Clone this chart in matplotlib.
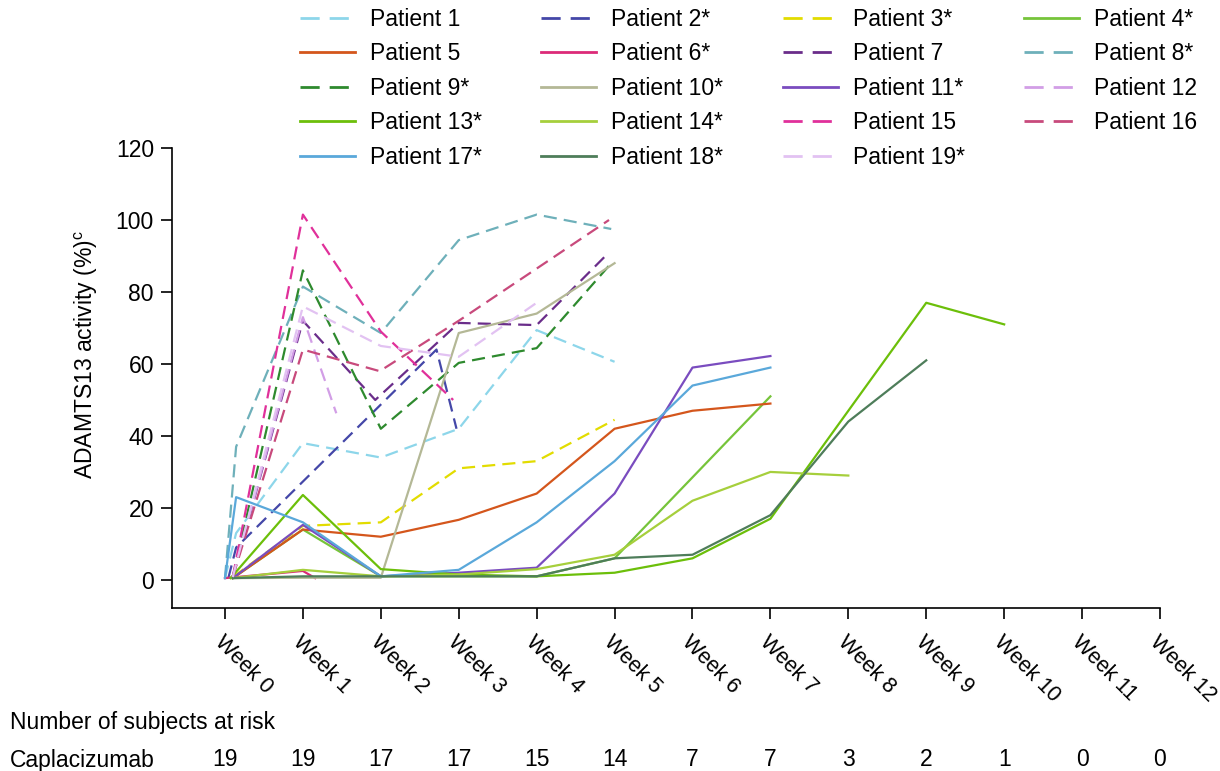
import numpy as np
import matplotlib
matplotlib.use('Agg')
import matplotlib.pyplot as plt
import matplotlib.transforms as mtransforms
from matplotlib.lines import Line2D

plt.rcParams['font.family'] = ['Liberation Sans', 'DejaVu Sans']
plt.rcParams['mathtext.fontset'] = 'custom'
plt.rcParams['mathtext.rm'] = 'Liberation Sans'

# days since first dose / ADAMTS13 activity (%)
days_1 = [0, 1, 7, 14, 21, 28, 35]
act_1 = [0.5, 13, 38, 34, 42, 69.4, 60.6]
days_2 = [0.3, 1, 19, 20.8]
act_2 = [0.5, 9, 64, 42]
days_3 = [0.7, 7, 14, 21, 28, 35]
act_3 = [0.8, 15, 16, 31, 33, 44.5]
days_4 = [0.7, 7, 14, 21, 28, 35, 49]
act_4 = [0.5, 14, 1, 1, 1, 6, 51]
days_5 = [0.7, 7, 14, 21, 28, 35, 42, 49]
act_5 = [0.5, 14, 12, 16.7, 24, 42, 47, 49]
days_6 = [0, 7, 8.1]
act_6 = [0.5, 2.5, 0.5]
days_7 = [0.7, 7, 13.5, 21, 28, 34.5]
act_7 = [0.8, 72, 50, 71.4, 70.8, 91]
days_8 = [0, 1, 7, 14, 21, 28, 34.7]
act_8 = [0.5, 37, 81.5, 68.6, 94.4, 101.5, 97.5]
days_9 = [0.7, 7, 14, 21, 28, 34.7]
act_9 = [0.8, 86, 42, 60.3, 64.4, 88]
days_10 = [0.7, 7, 14, 21, 28, 35]
act_10 = [0.5, 0.6, 0.6, 68.6, 74, 88]
days_11 = [0.7, 7, 14, 21, 28, 35, 42, 49]
act_11 = [0.5, 15.3, 1, 2, 3.4, 24, 59, 62.2]
days_12 = [0.7, 7, 10]
act_12 = [0.8, 73, 46.3]
days_13 = [0.5, 7, 14, 21, 28, 35, 42, 49, 63, 70]
act_13 = [0.5, 23.6, 3, 1.5, 1, 2, 6, 17, 77, 71]
days_14 = [0.7, 7, 14, 21, 28, 35, 42, 49, 56]
act_14 = [0.5, 2.8, 1, 1.5, 3, 7, 22, 30, 29]
days_15 = [0.7, 7, 14, 20.5]
act_15 = [0.8, 101.5, 69, 50]
days_16 = [0.7, 7, 13.9, 21, 28, 34.5]
act_16 = [0.8, 64, 58, 72, 86.5, 100]
days_17 = [0, 1, 7, 14, 21, 28, 35, 42, 49]
act_17 = [0.5, 23, 16, 1, 2.8, 16, 33, 54, 59]
days_18 = [0.7, 7, 14, 21, 28, 35, 42, 49, 56, 63]
act_18 = [0.5, 1, 1, 1, 1, 6, 7, 18, 44, 61]
days_19 = [0.7, 7, 14, 21, 28]
act_19 = [0.8, 76, 65, 62, 77]

labels = ['Patient 1', 'Patient 2*', 'Patient 3*', 'Patient 4*', 'Patient 5',
          'Patient 6*', 'Patient 7', 'Patient 8*', 'Patient 9*', 'Patient 10*',
          'Patient 11*', 'Patient 12', 'Patient 13*', 'Patient 14*', 'Patient 15',
          'Patient 16', 'Patient 17*', 'Patient 18*', 'Patient 19*']
colors = ['#8dd6ea', '#4447a8', '#e2dc00', '#76c43a', '#d4561c',
          '#dc2a78', '#6a2d8a', '#6eb0ba', '#2e8a2e', '#b4b896',
          '#7a4cbf', '#d29ee6', '#6cbf0a', '#a6cf3c', '#e0309a',
          '#c84a7c', '#5aa8da', '#4e7d5a', '#e2c2f2']
dashed = [True, True, True, False, False,
          False, True, True, True, False,
          False, True, False, False, True,
          True, False, False, True]

week_labels = ['Week %d' % w for w in range(13)]
at_risk = [19, 19, 17, 17, 15, 14, 7, 7, 3, 2, 1, 0, 0]

all_days = [days_1, days_2, days_3, days_4, days_5, days_6, days_7, days_8, days_9,
            days_10, days_11, days_12, days_13, days_14, days_15, days_16, days_17,
            days_18, days_19]
all_act = [act_1, act_2, act_3, act_4, act_5, act_6, act_7, act_8, act_9,
           act_10, act_11, act_12, act_13, act_14, act_15, act_16, act_17,
           act_18, act_19]

fig = plt.figure(figsize=(12.2, 7.71), dpi=100)
ax = fig.add_axes([172 / 1220, 1 - 608 / 771, (1160 - 172) / 1220, (608 - 148) / 771])

lw = 1.6
handles = []
for d, a, lab, c, ds in zip(all_days, all_act, labels, colors, dashed):
    if ds:
        ax.plot(d, a, color=c, lw=lw, dashes=(5.9, 3.2))
        handles.append(Line2D([], [], color=c, lw=lw + 0.4, dashes=(6.9, 3.6), label=lab))
    else:
        ax.plot(d, a, color=c, lw=lw)
        handles.append(Line2D([], [], color=c, lw=lw + 0.4, label=lab))

ax.set_xlim(-4.76, 84)
ax.set_ylim(-7.8, 120)
ax.set_yticks(np.arange(0, 121, 20))
ax.set_xticks(np.arange(0, 85, 7))
ax.set_xticklabels(week_labels, rotation=-45, ha='left', va='top',
                   rotation_mode='anchor')
for s in ['top', 'right']:
    ax.spines[s].set_visible(False)
for s in ['left', 'bottom']:
    ax.spines[s].set_linewidth(1.2)
ax.tick_params(axis='both', labelsize=16.5, length=8, width=1.2, pad=5)
ax.tick_params(axis='x', labelsize=15.5, pad=9)
ax.spines['left'].set_bounds(-7.8, 120)

ax.set_ylabel(r'ADAMTS13 activity (%)$^{\mathrm{c}}$', fontsize=16.5)
ax.yaxis.set_label_coords(-0.073, 0.55)

# legend, filled row by row
order = []
for col in range(4):
    order += list(range(col, 19, 4))
leg = fig.legend([handles[i] for i in order], [labels[i] for i in order],
                 ncol=4, loc='upper left', bbox_to_anchor=(300 / 1220, 1 - 8 / 771),
                 frameon=False, fontsize=16.5, handlelength=2.4, handletextpad=0.65,
                 columnspacing=2.6, labelspacing=0.5, borderpad=0, borderaxespad=0)

# numbers at risk
fig.text(10 / 1220, 1 - 722 / 771, 'Number of subjects at risk', fontsize=16.5,
         ha='left', va='center')
fig.text(10 / 1220, 1 - 760 / 771, 'Caplacizumab', fontsize=16.5,
         ha='left', va='center')
trans = mtransforms.blended_transform_factory(ax.transData, fig.transFigure)
for d, n in zip(np.arange(0, 85, 7), at_risk):
    ax.text(d, 1 - 760 / 771, str(n), transform=trans, fontsize=16.5,
            ha='center', va='center')

fig.savefig('out.png', dpi=100)
